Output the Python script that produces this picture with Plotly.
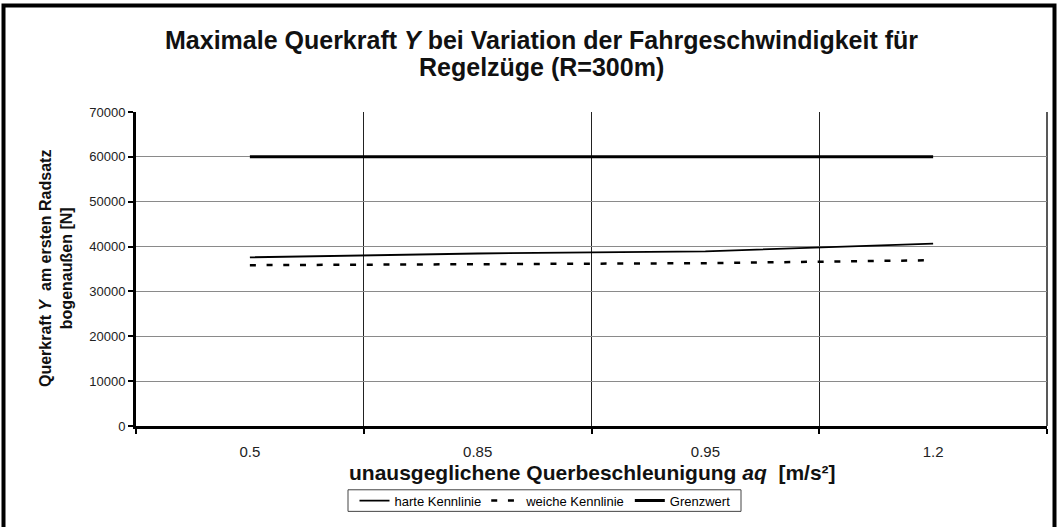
import plotly.graph_objects as go

# Lateral force data per unbalanced lateral acceleration
categories = ["0.5", "0.85", "0.95", "1.2"]
harte_kennlinie = [37600, 38450, 38950, 40650]
weiche_kennlinie = [35850, 36050, 36300, 36950]
grenzwert = [60000, 60000, 60000, 60000]
y_ticks = [0, 10000, 20000, 30000, 40000, 50000, 60000, 70000]

title_lines = ["Maximale Querkraft <i>Y</i> bei Variation der Fahrgeschwindigkeit für",
               "Regelzüge (R=300m)"]

W, H = 1058, 527
L, R, T, B = 136, 11, 112, 95
pw, ph = W - L - R, H - T - B

font = "Liberation Sans, Arial, sans-serif"


def px_x(p):
    return (p - L) / pw


def px_y(p):
    return (H - B - p) / ph


fig = go.Figure()
fig.add_trace(go.Scatter(x=categories, y=harte_kennlinie, mode="lines",
                         name="harte Kennlinie",
                         line=dict(color="black", width=1.8)))
fig.add_trace(go.Scatter(x=categories, y=weiche_kennlinie, mode="lines",
                         name="weiche Kennlinie",
                         line=dict(color="black", width=2.5, dash="6px,10.7px")))
fig.add_trace(go.Scatter(x=categories, y=grenzwert, mode="lines",
                         name="Grenzwert",
                         line=dict(color="black", width=3)))

# outer frame around the whole chart
fig.add_shape(type="rect", xref="paper", yref="paper",
              x0=px_x(3.5), x1=px_x(1054.5), y0=px_y(540), y1=px_y(3.5),
              line=dict(color="black", width=4), fillcolor="rgba(0,0,0,0)",
              layer="below")

# right edge of the plot area
fig.add_shape(type="line", xref="paper", yref="paper",
              x0=1, x1=1, y0=0, y1=1,
              line=dict(color="#222", width=1.5), layer="below")

# legend frame
fig.add_shape(type="rect", xref="paper", yref="paper",
              x0=px_x(348), x1=px_x(741), y0=px_y(519), y1=px_y(497),
              line=dict(color="#444", width=1), fillcolor="white",
              layer="below")

fig.update_layout(
    width=W, height=H,
    margin=dict(l=L, r=R, t=T, b=B),
    paper_bgcolor="white", plot_bgcolor="white",
    font=dict(family=font, size=13, color="black"),
    showlegend=True,
    legend=dict(
        orientation="h", x=px_x(545), xanchor="center",
        y=px_y(508), yanchor="middle",
        borderwidth=0, bgcolor="rgba(0,0,0,0)",
        font=dict(size=13, family=font),
        itemwidth=30, tracegroupgap=0,
    ),
)

# chart title, one annotation per line
for line_text, yc in zip(title_lines, [39, 66]):
    fig.add_annotation(
        text=f"<b>{line_text}</b>",
        xref="paper", yref="paper", x=px_x(541), y=px_y(yc),
        xanchor="center", yanchor="middle", showarrow=False,
        font=dict(size=25, family=font, color="#111"),
    )

fig.update_xaxes(
    type="category", tickson="boundaries", range=[-0.5, 3.5],
    showgrid=True, gridcolor="#222", gridwidth=1,
    showline=True, linecolor="black", linewidth=3,
    ticks="outside", ticklen=5, tickwidth=2, tickcolor="black",
    tickfont=dict(size=15, family=font, color="#222"),
    ticklabelstandoff=10,
    zeroline=False,
)

fig.update_yaxes(
    range=[0, 70000], tickvals=y_ticks,
    ticktext=[str(v) for v in y_ticks],
    showgrid=True, gridcolor="#8a8a8a", gridwidth=1,
    showline=True, linecolor="black", linewidth=3,
    ticks="outside", ticklen=5, tickwidth=2, tickcolor="black",
    tickfont=dict(size=13, family=font, color="#222"),
    zeroline=False,
)

# x axis title
fig.add_annotation(
    text="<b>unausgeglichene Querbeschleunigung <i>aq</i>  [m/s²]</b>",
    xref="paper", yref="paper", x=px_x(592), y=px_y(479),
    xanchor="center", yanchor="middle", showarrow=False,
    font=dict(size=21, family=font, color="#111"),
)

# two-line rotated y axis title
fig.add_annotation(
    text="<b>Querkraft <i>Y</i>  am ersten Radsatz<br>bogenaußen [N]</b>",
    xref="paper", yref="paper", x=px_x(56), y=px_y(272),
    xanchor="center", yanchor="middle", textangle=-90, showarrow=False,
    font=dict(size=16, family=font, color="#111"),
)

fig.write_html("out.html")
